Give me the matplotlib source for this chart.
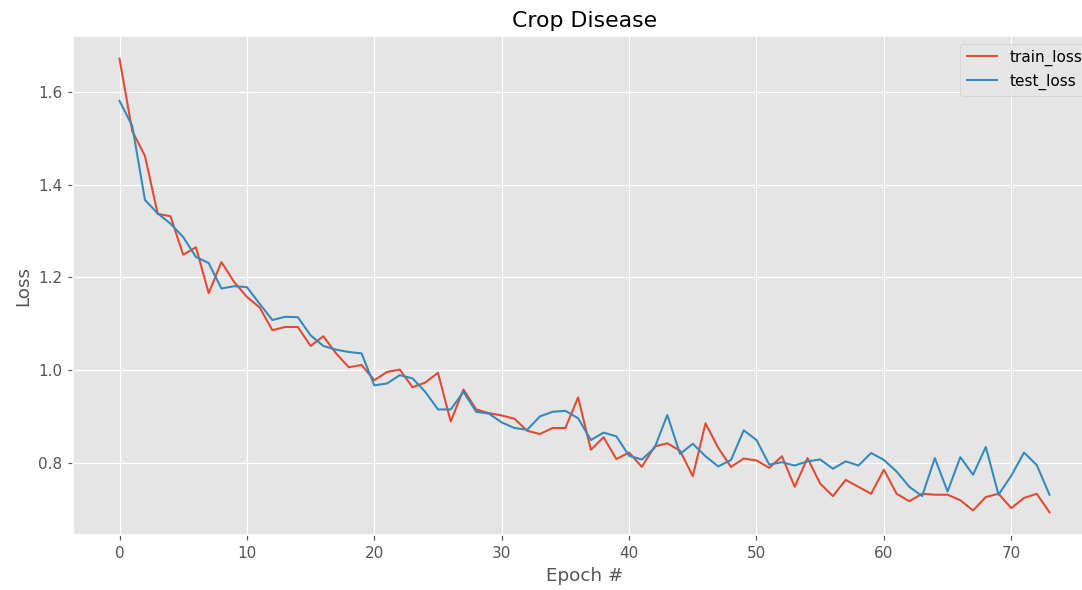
import numpy as np
from matplotlib import pyplot as plt

plt.style.use("ggplot")

# потери по эпохам
train_loss = [
    1.672, 1.516, 1.462, 1.337, 1.332, 1.249, 1.265, 1.166, 1.233, 1.190,
    1.158, 1.135, 1.086, 1.093, 1.093, 1.052, 1.073, 1.036, 1.006, 1.011,
    0.978, 0.996, 1.001, 0.963, 0.973, 0.994, 0.889, 0.958, 0.915, 0.907,
    0.902, 0.895, 0.869, 0.862, 0.875, 0.875, 0.941, 0.828, 0.855, 0.808,
    0.822, 0.791, 0.835, 0.842, 0.826, 0.771, 0.885, 0.832, 0.791, 0.809,
    0.805, 0.789, 0.814, 0.748, 0.810, 0.755, 0.728, 0.763, 0.748, 0.733,
    0.785, 0.733, 0.717, 0.733, 0.731, 0.731, 0.719, 0.697, 0.726, 0.733,
    0.702, 0.724, 0.733, 0.693,
]
test_loss = [
    1.581, 1.527, 1.367, 1.338, 1.316, 1.287, 1.244, 1.231, 1.176, 1.181,
    1.179, 1.143, 1.108, 1.115, 1.114, 1.075, 1.052, 1.044, 1.039, 1.036,
    0.967, 0.971, 0.989, 0.982, 0.953, 0.915, 0.915, 0.953, 0.910, 0.906,
    0.887, 0.875, 0.871, 0.900, 0.910, 0.912, 0.896, 0.849, 0.865, 0.857,
    0.815, 0.807, 0.832, 0.903, 0.819, 0.841, 0.814, 0.792, 0.806, 0.870,
    0.849, 0.796, 0.801, 0.794, 0.803, 0.807, 0.787, 0.803, 0.794, 0.821,
    0.806, 0.781, 0.748, 0.728, 0.810, 0.738, 0.812, 0.774, 0.834, 0.731,
    0.772, 0.822, 0.795, 0.731,
]
epochs = np.arange(len(train_loss))

dpi = 110
fig = plt.figure(figsize=(1082 / dpi, 590 / dpi), dpi=dpi)
ax = fig.add_axes([73 / 1082, 55 / 590, 1023 / 1082, 499 / 590])
ax.plot(epochs, train_loss, label="train_loss", lw=1.35)
ax.plot(epochs, test_loss, label="test_loss", lw=1.35)
ax.set_title("Crop Disease")
ax.set_xlabel("Epoch #")
ax.set_ylabel("Loss")
ax.legend(loc="upper right")
fig.savefig("out.png", dpi=dpi)
plt.close(fig)
